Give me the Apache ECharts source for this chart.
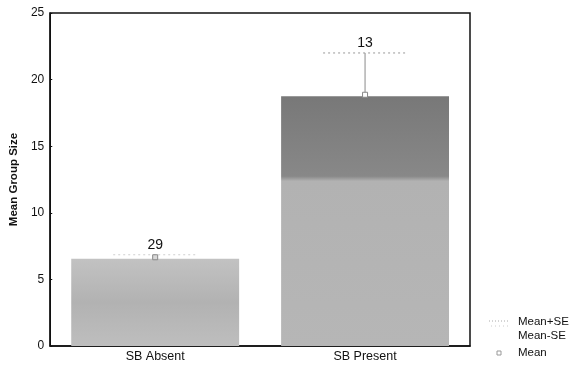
<!DOCTYPE html>
<html><head><meta charset="utf-8">
<script src="https://cdn.jsdelivr.net/npm/echarts@6/dist/echarts.min.js"></script>
<style>html,body{margin:0;padding:0;background:#fff}#c{width:574px;height:365px}</style>
</head><body><div id="c"></div>
<script>
var categories = ['SB Absent', 'SB Present'];
var meanValues = [6.55, 18.75];
var upperSE = [6.85, 22.0];
var groupN = ['29', '13'];
var yTicks = [0, 5, 10, 15, 20, 25];

var chart = echarts.init(document.getElementById('c'), null, {renderer: 'canvas'});

var barColors = [
  {type: 'linear', x: 0, y: 0, x2: 0, y2: 1, colorStops: [
    {offset: 0, color: '#c2c2c2'}, {offset: 0.5, color: '#b2b2b2'}, {offset: 1, color: '#bebebe'}]},
  {type: 'linear', x: 0, y: 0, x2: 0, y2: 1, colorStops: [
    {offset: 0, color: '#787878'}, {offset: 0.32, color: '#888888'},
    {offset: 0.34, color: '#b2b2b2'}, {offset: 1, color: '#b6b6b6'}]}
];

var option = {
  animation: false,
  grid: {left: 47, right: 104, top: 13, bottom: 19, show: true, borderColor: '#111', borderWidth: 1.5, backgroundColor: 'transparent'},
  xAxis: {
    type: 'category', data: categories,
    axisLine: {show: true, lineStyle: {color: '#111', width: 1.5}},
    axisTick: {show: false},
    axisLabel: {color: '#111', fontFamily: 'Liberation Sans, Arial', fontSize: 12.5, margin: 4}
  },
  yAxis: {
    type: 'value', min: yTicks[0], max: yTicks[yTicks.length - 1], interval: 5,
    name: 'Mean Group Size', nameLocation: 'middle', nameGap: 29,
    nameTextStyle: {color: '#111', fontFamily: 'Liberation Sans, Arial', fontSize: 11.5, fontWeight: 'bold'},
    axisLine: {show: true, lineStyle: {color: '#111', width: 1.5}},
    axisTick: {show: true, inside: true, length: 2, lineStyle: {color: '#111'}},
    splitLine: {show: false},
    axisLabel: {color: '#111', fontFamily: 'Liberation Sans, Arial', fontSize: 12, margin: 6,
      formatter: function (v) { return String(v); }}
  },
  series: [
    {
      type: 'bar', barWidth: '80%',
      data: meanValues.map(function (v, i) { return {value: v, itemStyle: {color: barColors[i]}}; }),
      itemStyle: {borderWidth: 0}
    },
    {
      type: 'custom',
      data: categories.map(function (c, i) { return [i, meanValues[i], upperSE[i], groupN[i]]; }),
      renderItem: function (params, api) {
        var m = api.coord([api.value(0), api.value(1)]);
        var u = api.coord([api.value(0), api.value(2)]);
        var half = api.size([1, 0])[0] * 0.2;
        var showCap = (u[1] < m[1] - 10);
        return {
          type: 'group',
          children: [
            {type: 'line', shape: {x1: m[0], y1: m[1], x2: u[0], y2: u[1]},
              style: {stroke: '#8a8a8a', lineWidth: 1}},
            {type: 'line', shape: {x1: u[0] - half, y1: u[1], x2: u[0] + half, y2: u[1]},
              style: {stroke: showCap ? '#999' : '#cfcfcf', lineWidth: 1, lineDash: [2, 3]}},
            {type: 'rect', shape: {x: m[0] - 2.5, y: m[1] - 4, width: 5, height: 5},
              style: {fill: showCap ? '#fff' : '#d8d8d8', stroke: '#888', lineWidth: 1}},
            {type: 'text', x: u[0], y: u[1] - 3,
              style: {text: api.value(3), fill: '#111', fontSize: 14, fontFamily: 'Liberation Sans, Arial',
                align: 'center', verticalAlign: 'bottom'}}
          ]
        };
      },
      z: 5
    }
  ],
  graphic: [
    {type: 'line', shape: {x1: 489, y1: 321, x2: 510, y2: 321}, style: {stroke: '#aaa', lineWidth: 1, lineDash: [1, 2]}},
    {type: 'line', shape: {x1: 491, y1: 326, x2: 508, y2: 326}, style: {stroke: '#ccc', lineWidth: 1, lineDash: [1, 3]}},
    {type: 'text', x: 518, y: 322, style: {text: 'Mean+SE', fill: '#111', fontSize: 11.5, fontFamily: 'Liberation Sans, Arial', verticalAlign: 'middle'}},
    {type: 'text', x: 518, y: 336, style: {text: 'Mean-SE', fill: '#111', fontSize: 11.5, fontFamily: 'Liberation Sans, Arial', verticalAlign: 'middle'}},
    {type: 'rect', shape: {x: 497, y: 351, width: 4, height: 4}, style: {fill: '#fff', stroke: '#999', lineWidth: 1}},
    {type: 'text', x: 518, y: 353, style: {text: 'Mean', fill: '#111', fontSize: 11.5, fontFamily: 'Liberation Sans, Arial', verticalAlign: 'middle'}}
  ]
};
chart.setOption(option);
</script>
</body></html>
